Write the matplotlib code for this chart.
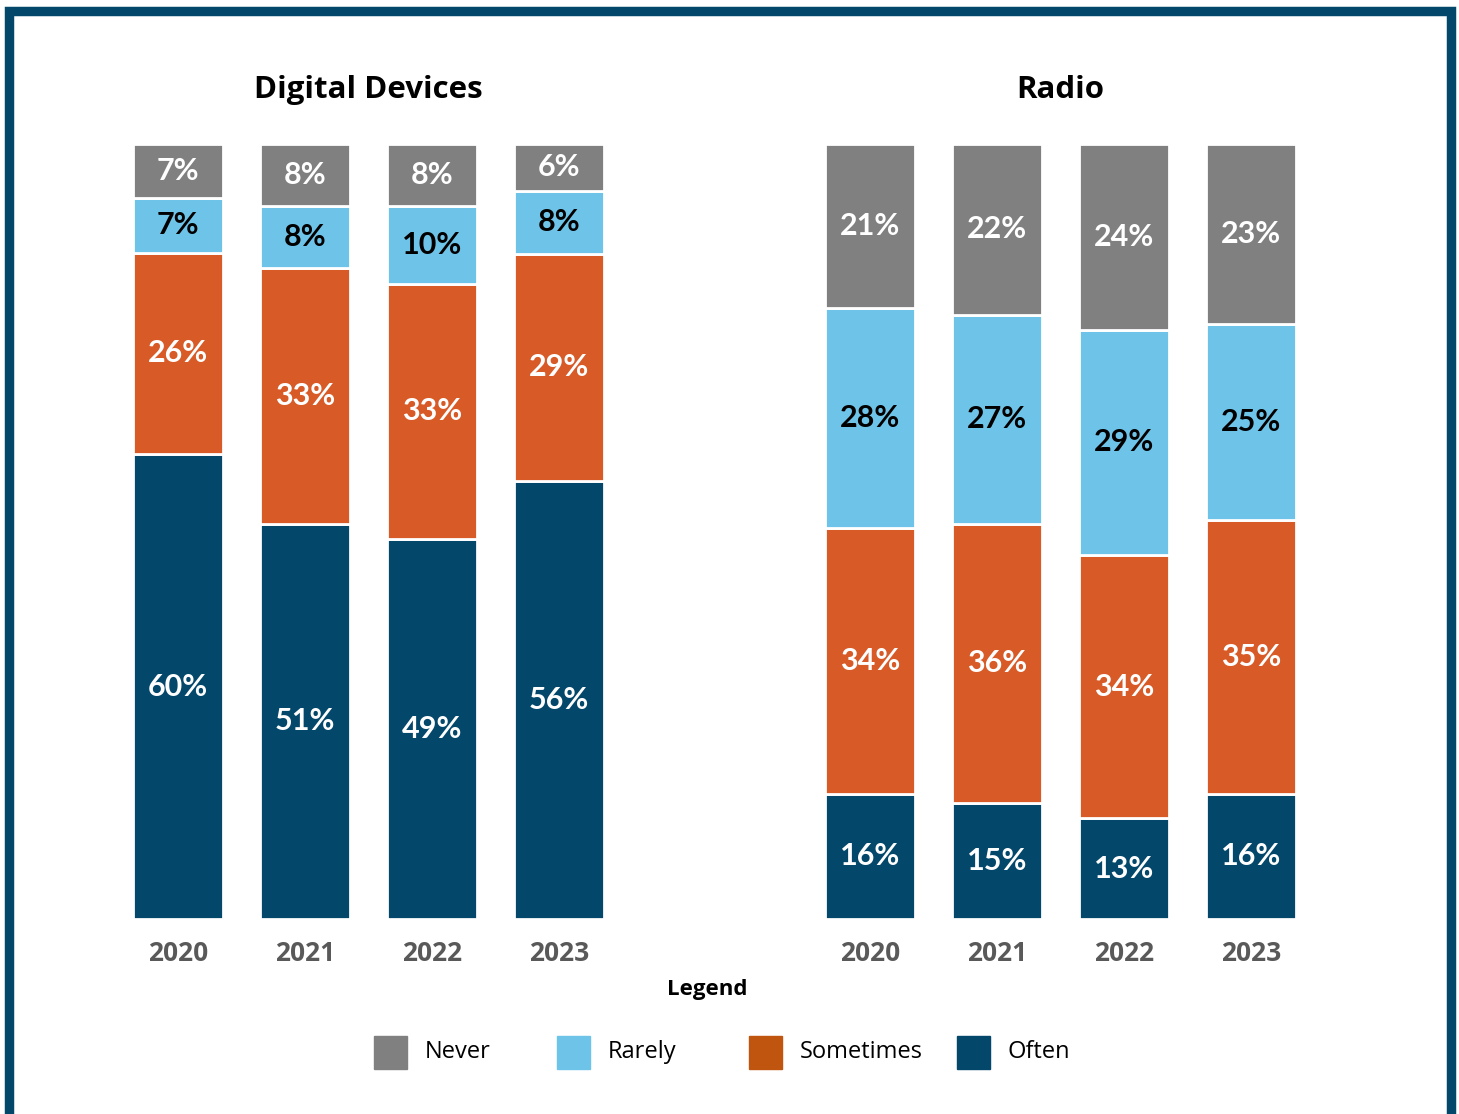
import matplotlib
matplotlib.use("Agg")
import matplotlib.pyplot as plt
import numpy as np
from matplotlib.patches import Rectangle

years = ["2020", "2021", "2022", "2023"]
categories = ["Often", "Sometimes", "Rarely", "Never"]  # bottom to top

digital_often = [60, 51, 49, 56]
digital_sometimes = [26, 33, 33, 29]
digital_rarely = [7, 8, 10, 8]
digital_never = [7, 8, 8, 6]

radio_often = [16, 15, 13, 16]
radio_sometimes = [34, 36, 34, 35]
radio_rarely = [28, 27, 29, 25]
radio_never = [21, 22, 24, 23]

colors = {"Never": "#808080", "Rarely": "#6EC4E8",
          "Sometimes": "#D75A27", "Often": "#03476A"}
legend_colors = {"Never": "#7F807F", "Rarely": "#6EC4E8",
                 "Sometimes": "#C0550F", "Often": "#03476A"}
label_colors = {"Never": "white", "Rarely": "black",
                "Sometimes": "white", "Often": "white"}

W, H = 1459, 1114
fig = plt.figure(figsize=(W / 100, H / 100), dpi=100)

def px(x0, y0, x1, y1):
    # pixel box -> figure fraction [left, bottom, width, height]
    return [x0 / W, 1 - y1 / H, (x1 - x0) / W, (y1 - y0) / H]

def draw(ax, title, series):
    x = np.arange(len(years))
    totals = np.sum(series, axis=0)
    bottom = np.zeros(len(years))
    for cat, vals in zip(categories, series):
        h = np.array(vals) / totals * 100
        ax.bar(x, h, bottom=bottom, width=0.71, color=colors[cat],
               edgecolor="white", linewidth=2)
        for xi, b, hi, v in zip(x, bottom, h, vals):
            ax.text(xi, b + hi / 2, f"{v}%", ha="center", va="center",
                    color=label_colors[cat], fontsize=22, fontweight="bold",
                    family="Lato")
        bottom += h
    ax.set_xlim(-0.6, 3.6)
    ax.set_ylim(0, 100)
    ax.set_xticks(x)
    ax.set_xticklabels(years, fontsize=19, fontweight="bold", color="#595959",
                       family="Open Sans")
    ax.tick_params(axis="x", length=0, pad=15)
    ax.set_yticks([])
    for s in ax.spines.values():
        s.set_visible(False)
    ax.set_title(title, fontsize=22.5, fontweight="bold", family="Open Sans",
                 pad=33)

ax1 = fig.add_axes(px(102, 144, 635, 919))
ax2 = fig.add_axes(px(794, 144, 1327, 919))
draw(ax1, "Digital Devices", [digital_often, digital_sometimes, digital_rarely, digital_never])
draw(ax2, "Radio", [radio_often, radio_sometimes, radio_rarely, radio_never])

# legend
fig.text(707 / W, 1 - 990 / H, "Legend", ha="center", va="center",
         fontsize=16, fontweight="bold", family="Open Sans")
leg_items = ["Never", "Rarely", "Sometimes", "Often"]
leg_x = [374, 557, 749, 957]
for name, lx in zip(leg_items, leg_x):
    fig.patches.append(Rectangle((lx / W, 1 - 1069 / H), 33 / W, 33 / H,
                                 transform=fig.transFigure,
                                 color=legend_colors[name]))
    fig.text((lx + 51) / W, 1 - 1052 / H, name, ha="left", va="center",
             fontsize=17, family="Open Sans")

# frame
fig.patches.append(Rectangle((8.5 / W, 1 - 1117 / H), (1451 - 8.5) / W,
                             (1117 - 10.5) / H, transform=fig.transFigure,
                             fill=False, edgecolor="#03486B", linewidth=6.8))

fig.savefig("out.png", dpi=100)
